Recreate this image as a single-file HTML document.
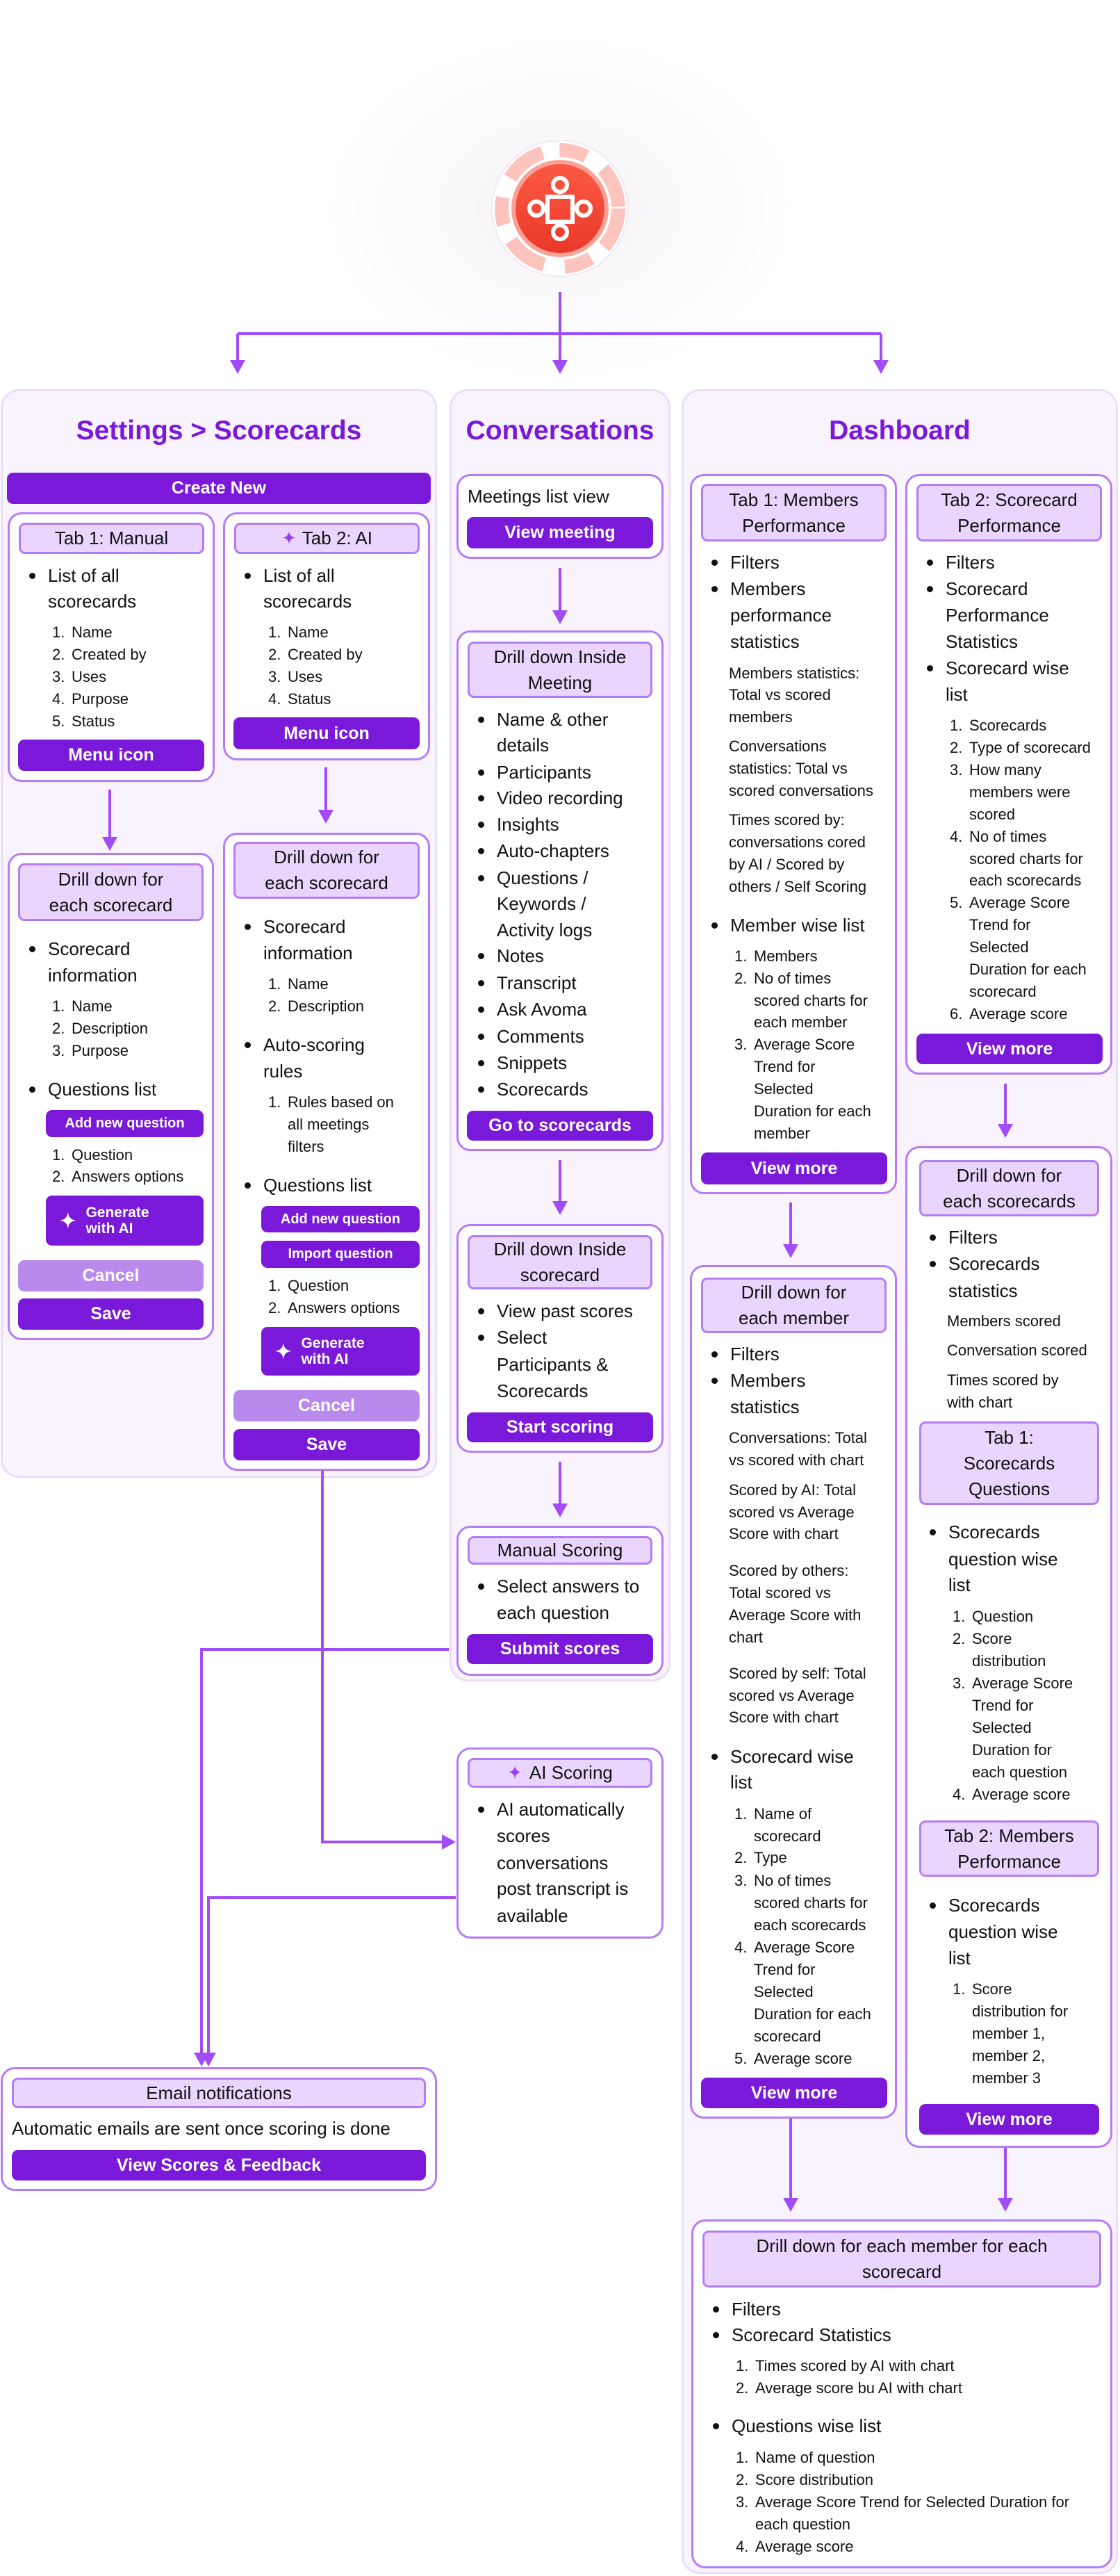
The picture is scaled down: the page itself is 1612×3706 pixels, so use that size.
<!DOCTYPE html>
<html><head><meta charset="utf-8">
<style>
*{box-sizing:border-box;margin:0;padding:0}
body{width:1612px;height:3706px;position:relative;background:#fff;font-family:"Liberation Sans",sans-serif;color:#111;overflow:hidden}
.p{position:absolute;background:#f9f3fe;border:3px solid #ecdcfd;border-radius:26px}
.bx{position:absolute;background:#fff;border:3px solid #b57cf7;border-radius:20px}
.h{position:absolute;background:#e9d5fd;border:3px solid #b57cf7;border-radius:9px;text-align:center;font-size:26px;line-height:37px;color:#111;display:flex;align-items:center;justify-content:center}
.bt{position:absolute;background:#7a19d9;color:#fff;font-weight:bold;text-align:center;border-radius:9px;font-size:25px;display:flex;align-items:center;justify-content:center}
.sm{font-size:20px}
.cn{background:#b98aeb}
.ti{position:absolute;color:#7a19d9;font-weight:bold;font-size:39px;line-height:44px;text-align:center}
.t{position:absolute;white-space:nowrap;font-size:26px;line-height:38px}
.s{font-size:22px;line-height:32px}
.d::before{content:"";position:absolute;left:-27px;top:15px;width:9px;height:9px;border-radius:50%;background:#111}
.nm{position:absolute;left:-28px;font-weight:normal}
svg{position:absolute;left:0;top:0}
</style></head><body>
<svg width="1612" height="3706" style="z-index:0">
<defs><radialGradient id="g1" cx="50%" cy="50%" r="50%"><stop offset="0" stop-color="#f6f3f8"/><stop offset="1" stop-color="#fff"/></radialGradient>
<linearGradient id="g2" x1="0" y1="0" x2="0" y2="1"><stop offset="0" stop-color="#fb5a44"/><stop offset="1" stop-color="#ea3829"/></linearGradient></defs>
<ellipse cx="806" cy="300" rx="340" ry="250" fill="url(#g1)"/>
<circle cx="806" cy="300" r="98" fill="#fff" stroke="#f3eef5" stroke-width="3"/>
<circle cx="806" cy="300" r="84" fill="none" stroke="#fcc4bc" stroke-width="20" stroke-dasharray="60 25 40 30"/>
<circle cx="806" cy="300" r="70" fill="#f9a196"/>
<circle cx="806" cy="300" r="64" fill="url(#g2)"/>
<rect x="788" y="283" width="36" height="36" fill="none" stroke="#fff" stroke-width="6"/>
<circle cx="806" cy="266" r="10" fill="none" stroke="#fff" stroke-width="6"/>
<circle cx="806" cy="334" r="10" fill="none" stroke="#fff" stroke-width="6"/>
<circle cx="772" cy="300" r="10" fill="none" stroke="#fff" stroke-width="6"/>
<circle cx="840" cy="300" r="10" fill="none" stroke="#fff" stroke-width="6"/>
</svg>

<div class="p" style="left:1px;top:560px;width:628px;height:1566px"></div>
<div class="p" style="left:647px;top:560px;width:318px;height:1859px"></div>
<div class="p" style="left:981px;top:560px;width:628px;height:3143px"></div>

<svg width="1612" height="3706" style="z-index:1" fill="#a24cf8" stroke="#a24cf8">
<g stroke-width="4" fill="none">
<path d="M806 420V520M342 480H1268M342 480V520M1268 480V520"/>
<path d="M158 1136V1206M469 1104V1167"/>
<path d="M806 817V880M806 1669V1730M806 2103V2165"/>
<path d="M1447 1559V1619M1138 1730V1792M1138 3048V3164M1447 3090V3164"/>
<path d="M464 2116V2650H640"/>
<path d="M646 2373H290V2955"/>
<path d="M656 2730H300V2955"/>
</g>
<g stroke="none">
<polygon points="795,518 817,518 806,538"/>
<polygon points="331,518 353,518 342,538"/>
<polygon points="1257,518 1279,518 1268,538"/>
<polygon points="147,1204 169,1204 158,1224"/>
<polygon points="458,1165 480,1165 469,1185"/>
<polygon points="795,878 817,878 806,898"/>
<polygon points="795,1728 817,1728 806,1748"/>
<polygon points="795,2163 817,2163 806,2183"/>
<polygon points="1436,1617 1458,1617 1447,1637"/>
<polygon points="1127,1790 1149,1790 1138,1810"/>
<polygon points="1127,3162 1149,3162 1138,3182"/>
<polygon points="1436,3162 1458,3162 1447,3182"/>
<polygon points="636,2639 636,2661 656,2650"/>
<polygon points="279,2953 301,2953 290,2973"/>
<polygon points="289,2953 311,2953 300,2973"/>
</g>
</svg>

<div style="position:absolute;left:0;top:0;z-index:2;width:1612px;height:3706px">
<div class="ti" style="left:1px;top:598px;width:628px">Settings &gt; Scorecards</div>
<div class="ti" style="left:647px;top:598px;width:318px">Conversations</div>
<div class="ti" style="left:981px;top:598px;width:628px">Dashboard</div>

<div class="bt" style="left:10px;top:680px;width:610px;height:45px">Create New</div>

<!-- Settings Tab1 -->
<div class="bx" style="left:11px;top:737px;width:298px;height:388px"></div>
<div class="h" style="left:27px;top:752px;width:267px;height:45px">Tab 1: Manual</div>
<div class="t d" style="left:69px;top:809px">List of all</div>
<div class="t" style="left:69px;top:846px">scorecards</div>
<div class="t s" style="left:103px;top:894px"><b class="nm">1.</b>Name</div>
<div class="t s" style="left:103px;top:926px"><b class="nm">2.</b>Created by</div>
<div class="t s" style="left:103px;top:958px"><b class="nm">3.</b>Uses</div>
<div class="t s" style="left:103px;top:990px"><b class="nm">4.</b>Purpose</div>
<div class="t s" style="left:103px;top:1022px"><b class="nm">5.</b>Status</div>
<div class="bt" style="left:26px;top:1064px;width:268px;height:45px">Menu icon</div>

<!-- Settings Tab2 -->
<div class="bx" style="left:321px;top:737px;width:298px;height:357px"></div>
<div class="h" style="left:337px;top:752px;width:267px;height:45px"><span style="color:#9b3df0;font-size:26px;margin-right:8px">✦</span>Tab 2: AI</div>
<div class="t d" style="left:379px;top:809px">List of all</div>
<div class="t" style="left:379px;top:846px">scorecards</div>
<div class="t s" style="left:414px;top:894px"><b class="nm">1.</b>Name</div>
<div class="t s" style="left:414px;top:926px"><b class="nm">2.</b>Created by</div>
<div class="t s" style="left:414px;top:958px"><b class="nm">3.</b>Uses</div>
<div class="t s" style="left:414px;top:990px"><b class="nm">4.</b>Status</div>
<div class="bt" style="left:336px;top:1032px;width:268px;height:46px">Menu icon</div>

<!-- Settings Drill 1 -->
<div class="bx" style="left:11px;top:1227px;width:297px;height:701px"></div>
<div class="h" style="left:26px;top:1242px;width:267px;height:83px">Drill down for<br>each scorecard</div>
<div class="t d" style="left:69px;top:1346px">Scorecard</div>
<div class="t" style="left:69px;top:1384px">information</div>
<div class="t s" style="left:103px;top:1432px"><b class="nm">1.</b>Name</div>
<div class="t s" style="left:103px;top:1464px"><b class="nm">2.</b>Description</div>
<div class="t s" style="left:103px;top:1496px"><b class="nm">3.</b>Purpose</div>
<div class="t d" style="left:69px;top:1548px">Questions list</div>
<div class="bt sm" style="left:66px;top:1597px;width:227px;height:39px">Add new question</div>
<div class="t s" style="left:103px;top:1646px"><b class="nm">1.</b>Question</div>
<div class="t s" style="left:103px;top:1677px"><b class="nm">2.</b>Answers options</div>
<div class="bt" style="left:66px;top:1720px;width:227px;height:72px;justify-content:flex-start;padding-left:20px;font-size:21px"><span style="font-size:28px;margin-right:14px">✦</span><span style="text-align:left;line-height:23px">Generate<br>with AI</span></div>
<div class="bt cn" style="left:26px;top:1813px;width:267px;height:45px">Cancel</div>
<div class="bt" style="left:26px;top:1868px;width:267px;height:45px">Save</div>

<!-- Settings Drill 2 -->
<div class="bx" style="left:321px;top:1198px;width:298px;height:918px"></div>
<div class="h" style="left:336px;top:1211px;width:268px;height:82px">Drill down for<br>each scorecard</div>
<div class="t d" style="left:379px;top:1314px">Scorecard</div>
<div class="t" style="left:379px;top:1352px">information</div>
<div class="t s" style="left:414px;top:1400px"><b class="nm">1.</b>Name</div>
<div class="t s" style="left:414px;top:1432px"><b class="nm">2.</b>Description</div>
<div class="t d" style="left:379px;top:1484px">Auto-scoring</div>
<div class="t" style="left:379px;top:1522px">rules</div>
<div class="t s" style="left:414px;top:1570px"><b class="nm">1.</b>Rules based on</div>
<div class="t s" style="left:414px;top:1602px">all meetings</div>
<div class="t s" style="left:414px;top:1634px">filters</div>
<div class="t d" style="left:379px;top:1686px">Questions list</div>
<div class="bt sm" style="left:376px;top:1735px;width:228px;height:38px">Add new question</div>
<div class="bt sm" style="left:376px;top:1785px;width:228px;height:39px">Import question</div>
<div class="t s" style="left:414px;top:1834px"><b class="nm">1.</b>Question</div>
<div class="t s" style="left:414px;top:1866px"><b class="nm">2.</b>Answers options</div>
<div class="bt" style="left:376px;top:1909px;width:228px;height:70px;justify-content:flex-start;padding-left:20px;font-size:21px"><span style="font-size:28px;margin-right:14px">✦</span><span style="text-align:left;line-height:23px">Generate<br>with AI</span></div>
<div class="bt cn" style="left:336px;top:2000px;width:268px;height:45px">Cancel</div>
<div class="bt" style="left:336px;top:2056px;width:268px;height:45px">Save</div>

<!-- Conversations -->
<div class="bx" style="left:657px;top:682px;width:298px;height:122px"></div>
<div class="t" style="left:673px;top:695px">Meetings list view</div>
<div class="bt" style="left:672px;top:744px;width:268px;height:45px">View meeting</div>

<div class="bx" style="left:657px;top:907px;width:298px;height:749px"></div>
<div class="h" style="left:673px;top:923px;width:266px;height:81px">Drill down Inside<br>Meeting</div>
<div class="t d" style="left:715px;top:1016px">Name &amp; other</div>
<div class="t" style="left:715px;top:1053px">details</div>
<div class="t d" style="left:715px;top:1092px">Participants</div>
<div class="t d" style="left:715px;top:1129px">Video recording</div>
<div class="t d" style="left:715px;top:1167px">Insights</div>
<div class="t d" style="left:715px;top:1205px">Auto-chapters</div>
<div class="t d" style="left:715px;top:1244px">Questions /</div>
<div class="t" style="left:715px;top:1281px">Keywords /</div>
<div class="t" style="left:715px;top:1319px">Activity logs</div>
<div class="t d" style="left:715px;top:1356px">Notes</div>
<div class="t d" style="left:715px;top:1395px">Transcript</div>
<div class="t d" style="left:715px;top:1433px">Ask Avoma</div>
<div class="t d" style="left:715px;top:1472px">Comments</div>
<div class="t d" style="left:715px;top:1510px">Snippets</div>
<div class="t d" style="left:715px;top:1548px">Scorecards</div>
<div class="bt" style="left:672px;top:1598px;width:268px;height:43px">Go to scorecards</div>

<div class="bx" style="left:657px;top:1761px;width:298px;height:329px"></div>
<div class="h" style="left:673px;top:1777px;width:266px;height:78px">Drill down Inside<br>scorecard</div>
<div class="t d" style="left:715px;top:1867px">View past scores</div>
<div class="t d" style="left:715px;top:1905px">Select</div>
<div class="t" style="left:715px;top:1944px">Participants &amp;</div>
<div class="t" style="left:715px;top:1982px">Scorecards</div>
<div class="bt" style="left:672px;top:2032px;width:268px;height:43px">Start scoring</div>

<div class="bx" style="left:657px;top:2195px;width:298px;height:216px"></div>
<div class="h" style="left:673px;top:2210px;width:266px;height:41px">Manual Scoring</div>
<div class="t d" style="left:715px;top:2263px">Select answers to</div>
<div class="t" style="left:715px;top:2301px">each question</div>
<div class="bt" style="left:672px;top:2351px;width:268px;height:43px">Submit scores</div>

<div class="bx" style="left:657px;top:2514px;width:298px;height:275px"></div>
<div class="h" style="left:673px;top:2529px;width:266px;height:43px"><span style="color:#9b3df0;font-size:26px;margin-right:10px">✦</span>AI Scoring</div>
<div class="t d" style="left:715px;top:2584px">AI automatically</div>
<div class="t" style="left:715px;top:2622px">scores</div>
<div class="t" style="left:715px;top:2661px">conversations</div>
<div class="t" style="left:715px;top:2698px">post transcript is</div>
<div class="t" style="left:715px;top:2737px">available</div>

<!-- Email -->
<div class="bx" style="left:1px;top:2974px;width:628px;height:178px"></div>
<div class="h" style="left:17px;top:2989px;width:596px;height:44px">Email notifications</div>
<div class="t" style="left:17px;top:3043px">Automatic emails are sent once scoring is done</div>
<div class="bt" style="left:17px;top:3093px;width:596px;height:44px">View Scores &amp; Feedback</div>

<!-- Dashboard Tab1 -->
<div class="bx" style="left:993px;top:682px;width:298px;height:1036px"></div>
<div class="h" style="left:1009px;top:696px;width:267px;height:83px">Tab 1: Members<br>Performance</div>
<div class="t d" style="left:1051px;top:790px">Filters</div>
<div class="t d" style="left:1051px;top:828px">Members</div>
<div class="t" style="left:1051px;top:866px">performance</div>
<div class="t" style="left:1051px;top:904px">statistics</div>
<div class="t s" style="left:1049px;top:953px">Members statistics:</div>
<div class="t s" style="left:1049px;top:984px">Total vs scored</div>
<div class="t s" style="left:1049px;top:1016px">members</div>
<div class="t s" style="left:1049px;top:1058px">Conversations</div>
<div class="t s" style="left:1049px;top:1090px">statistics: Total vs</div>
<div class="t s" style="left:1049px;top:1122px">scored conversations</div>
<div class="t s" style="left:1049px;top:1164px">Times scored by:</div>
<div class="t s" style="left:1049px;top:1196px">conversations cored</div>
<div class="t s" style="left:1049px;top:1228px">by AI / Scored by</div>
<div class="t s" style="left:1049px;top:1260px">others / Self Scoring</div>
<div class="t d" style="left:1051px;top:1312px">Member wise list</div>
<div class="t s" style="left:1085px;top:1360px"><b class="nm">1.</b>Members</div>
<div class="t s" style="left:1085px;top:1392px"><b class="nm">2.</b>No of times</div>
<div class="t s" style="left:1085px;top:1424px">scored charts for</div>
<div class="t s" style="left:1085px;top:1455px">each member</div>
<div class="t s" style="left:1085px;top:1487px"><b class="nm">3.</b>Average Score</div>
<div class="t s" style="left:1085px;top:1519px">Trend for</div>
<div class="t s" style="left:1085px;top:1551px">Selected</div>
<div class="t s" style="left:1085px;top:1583px">Duration for each</div>
<div class="t s" style="left:1085px;top:1615px">member</div>
<div class="bt" style="left:1009px;top:1658px;width:268px;height:46px">View more</div>

<!-- Dashboard Tab2 -->
<div class="bx" style="left:1303px;top:682px;width:298px;height:864px"></div>
<div class="h" style="left:1319px;top:696px;width:267px;height:83px">Tab 2: Scorecard<br>Performance</div>
<div class="t d" style="left:1361px;top:790px">Filters</div>
<div class="t d" style="left:1361px;top:828px">Scorecard</div>
<div class="t" style="left:1361px;top:866px">Performance</div>
<div class="t" style="left:1361px;top:904px">Statistics</div>
<div class="t d" style="left:1361px;top:942px">Scorecard wise</div>
<div class="t" style="left:1361px;top:980px">list</div>
<div class="t s" style="left:1395px;top:1028px"><b class="nm">1.</b>Scorecards</div>
<div class="t s" style="left:1395px;top:1060px"><b class="nm">2.</b>Type of scorecard</div>
<div class="t s" style="left:1395px;top:1092px"><b class="nm">3.</b>How many</div>
<div class="t s" style="left:1395px;top:1124px">members were</div>
<div class="t s" style="left:1395px;top:1156px">scored</div>
<div class="t s" style="left:1395px;top:1188px"><b class="nm">4.</b>No of times</div>
<div class="t s" style="left:1395px;top:1220px">scored charts for</div>
<div class="t s" style="left:1395px;top:1251px">each scorecards</div>
<div class="t s" style="left:1395px;top:1283px"><b class="nm">5.</b>Average Score</div>
<div class="t s" style="left:1395px;top:1315px">Trend for</div>
<div class="t s" style="left:1395px;top:1347px">Selected</div>
<div class="t s" style="left:1395px;top:1379px">Duration for each</div>
<div class="t s" style="left:1395px;top:1411px">scorecard</div>
<div class="t s" style="left:1395px;top:1443px"><b class="nm">6.</b>Average score</div>
<div class="bt" style="left:1319px;top:1487px;width:268px;height:44px">View more</div>

<!-- Dashboard Drill scorecards -->
<div class="bx" style="left:1303px;top:1649px;width:298px;height:1441px"></div>
<div class="h" style="left:1323px;top:1669px;width:259px;height:81px">Drill down for<br>each scorecards</div>
<div class="t d" style="left:1365px;top:1761px">Filters</div>
<div class="t d" style="left:1365px;top:1799px">Scorecards</div>
<div class="t" style="left:1365px;top:1838px">statistics</div>
<div class="t s" style="left:1363px;top:1885px">Members scored</div>
<div class="t s" style="left:1363px;top:1927px">Conversation scored</div>
<div class="t s" style="left:1363px;top:1970px">Times scored by</div>
<div class="t s" style="left:1363px;top:2002px">with chart</div>
<div class="h" style="left:1323px;top:2045px;width:259px;height:120px">Tab 1:<br>Scorecards<br>Questions</div>
<div class="t d" style="left:1365px;top:2185px">Scorecards</div>
<div class="t" style="left:1365px;top:2224px">question wise</div>
<div class="t" style="left:1365px;top:2261px">list</div>
<div class="t s" style="left:1399px;top:2310px"><b class="nm">1.</b>Question</div>
<div class="t s" style="left:1399px;top:2342px"><b class="nm">2.</b>Score</div>
<div class="t s" style="left:1399px;top:2374px">distribution</div>
<div class="t s" style="left:1399px;top:2406px"><b class="nm">3.</b>Average Score</div>
<div class="t s" style="left:1399px;top:2438px">Trend for</div>
<div class="t s" style="left:1399px;top:2470px">Selected</div>
<div class="t s" style="left:1399px;top:2502px">Duration for</div>
<div class="t s" style="left:1399px;top:2534px">each question</div>
<div class="t s" style="left:1399px;top:2566px"><b class="nm">4.</b>Average score</div>
<div class="h" style="left:1323px;top:2619px;width:259px;height:81px">Tab 2: Members<br>Performance</div>
<div class="t d" style="left:1365px;top:2722px">Scorecards</div>
<div class="t" style="left:1365px;top:2760px">question wise</div>
<div class="t" style="left:1365px;top:2798px">list</div>
<div class="t s" style="left:1399px;top:2846px"><b class="nm">1.</b>Score</div>
<div class="t s" style="left:1399px;top:2878px">distribution for</div>
<div class="t s" style="left:1399px;top:2910px">member 1,</div>
<div class="t s" style="left:1399px;top:2942px">member 2,</div>
<div class="t s" style="left:1399px;top:2974px">member 3</div>
<div class="bt" style="left:1323px;top:3027px;width:259px;height:44px">View more</div>

<!-- Dashboard Drill member -->
<div class="bx" style="left:993px;top:1820px;width:298px;height:1228px"></div>
<div class="h" style="left:1009px;top:1838px;width:267px;height:80px">Drill down for<br>each member</div>
<div class="t d" style="left:1051px;top:1929px">Filters</div>
<div class="t d" style="left:1051px;top:1967px">Members</div>
<div class="t" style="left:1051px;top:2005px">statistics</div>
<div class="t s" style="left:1049px;top:2053px">Conversations: Total</div>
<div class="t s" style="left:1049px;top:2085px">vs scored with chart</div>
<div class="t s" style="left:1049px;top:2128px">Scored by AI: Total</div>
<div class="t s" style="left:1049px;top:2160px">scored vs Average</div>
<div class="t s" style="left:1049px;top:2191px">Score with chart</div>
<div class="t s" style="left:1049px;top:2244px">Scored by others:</div>
<div class="t s" style="left:1049px;top:2276px">Total scored vs</div>
<div class="t s" style="left:1049px;top:2308px">Average Score with</div>
<div class="t s" style="left:1049px;top:2340px">chart</div>
<div class="t s" style="left:1049px;top:2392px">Scored by self: Total</div>
<div class="t s" style="left:1049px;top:2424px">scored vs Average</div>
<div class="t s" style="left:1049px;top:2455px">Score with chart</div>
<div class="t d" style="left:1051px;top:2508px">Scorecard wise</div>
<div class="t" style="left:1051px;top:2545px">list</div>
<div class="t s" style="left:1085px;top:2594px"><b class="nm">1.</b>Name of</div>
<div class="t s" style="left:1085px;top:2626px">scorecard</div>
<div class="t s" style="left:1085px;top:2657px"><b class="nm">2.</b>Type</div>
<div class="t s" style="left:1085px;top:2690px"><b class="nm">3.</b>No of times</div>
<div class="t s" style="left:1085px;top:2722px">scored charts for</div>
<div class="t s" style="left:1085px;top:2754px">each scorecards</div>
<div class="t s" style="left:1085px;top:2786px"><b class="nm">4.</b>Average Score</div>
<div class="t s" style="left:1085px;top:2818px">Trend for</div>
<div class="t s" style="left:1085px;top:2850px">Selected</div>
<div class="t s" style="left:1085px;top:2882px">Duration for each</div>
<div class="t s" style="left:1085px;top:2914px">scorecard</div>
<div class="t s" style="left:1085px;top:2946px"><b class="nm">5.</b>Average score</div>
<div class="bt" style="left:1009px;top:2989px;width:268px;height:44px">View more</div>

<!-- Dashboard bottom -->
<div class="bx" style="left:995px;top:3193px;width:606px;height:502px"></div>
<div class="h" style="left:1011px;top:3209px;width:574px;height:82px">Drill down for each member for each<br>scorecard</div>
<div class="t d" style="left:1053px;top:3303px">Filters</div>
<div class="t d" style="left:1053px;top:3340px">Scorecard Statistics</div>
<div class="t s" style="left:1087px;top:3388px"><b class="nm">1.</b>Times scored by AI with chart</div>
<div class="t s" style="left:1087px;top:3420px"><b class="nm">2.</b>Average score bu AI with chart</div>
<div class="t d" style="left:1053px;top:3471px">Questions wise list</div>
<div class="t s" style="left:1087px;top:3520px"><b class="nm">1.</b>Name of question</div>
<div class="t s" style="left:1087px;top:3552px"><b class="nm">2.</b>Score distribution</div>
<div class="t s" style="left:1087px;top:3584px"><b class="nm">3.</b>Average Score Trend for Selected Duration for</div>
<div class="t s" style="left:1087px;top:3616px">each question</div>
<div class="t s" style="left:1087px;top:3648px"><b class="nm">4.</b>Average score</div>
</div>
</body></html>
